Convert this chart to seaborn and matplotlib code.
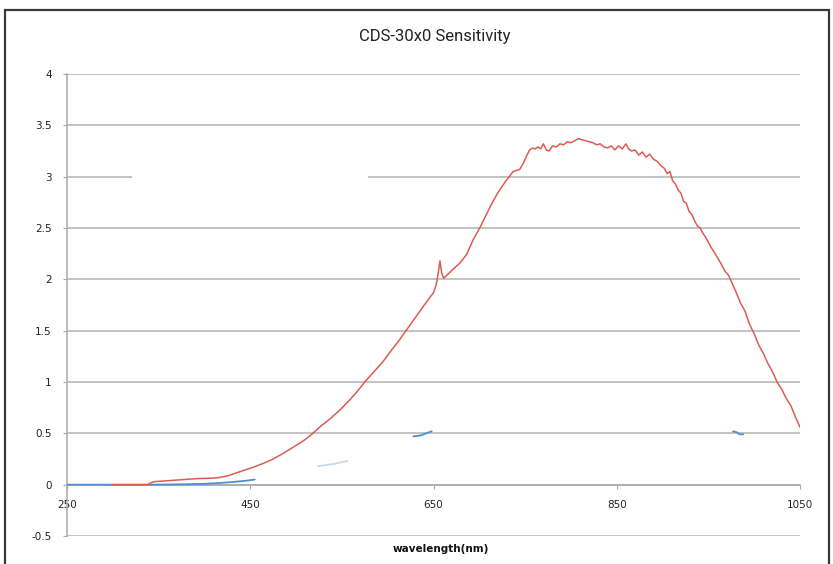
import numpy as np
import pandas as pd
import matplotlib
matplotlib.use('Agg')
import matplotlib.pyplot as plt
import seaborn as sns
from matplotlib.patches import Rectangle

# ── Data ──────────────────────────────────────────────────────────────────────
red_wl = [299, 338, 342, 346, 355, 370, 385, 395, 405, 415, 425, 435, 445, 455,
          465, 475, 485, 495, 505, 510, 517, 527, 537, 547, 557, 567, 575, 585,
          595, 605, 612, 620, 628, 636, 644, 650, 653, 655, 657, 659, 661, 668,
          679, 686, 693, 701, 707, 712, 720, 726, 730, 737, 744, 748, 752, 755,
          758, 761, 764, 767, 770, 773, 776, 780, 784, 788, 792, 796, 800, 804,
          808, 812, 816, 820, 824, 828, 832, 836, 840, 844, 848, 852, 856, 860,
          863, 866, 870, 874, 878, 882, 886, 890, 894, 898, 902, 905, 908, 911,
          914, 917, 920, 923, 926, 929, 932, 935, 938, 941, 944, 947, 950, 953,
          956, 960, 964, 968, 972, 976, 980, 985, 990, 995, 1000, 1005, 1010,
          1015, 1020, 1025, 1030, 1035, 1040, 1045, 1050]
red_val = [0.0, 0.0, 0.02, 0.03, 0.035, 0.045, 0.055, 0.06, 0.062, 0.068, 0.085,
           0.115, 0.145, 0.175, 0.21, 0.25, 0.30, 0.355, 0.41, 0.44, 0.49, 0.57,
           0.64, 0.72, 0.81, 0.91, 1.0, 1.10, 1.20, 1.32, 1.40, 1.50, 1.60, 1.70,
           1.80, 1.87, 1.95, 2.05, 2.18, 2.06, 2.01, 2.07, 2.16, 2.24, 2.38, 2.51,
           2.62, 2.71, 2.84, 2.92, 2.97, 3.05, 3.07, 3.13, 3.21, 3.26, 3.28, 3.27,
           3.29, 3.27, 3.32, 3.26, 3.25, 3.30, 3.29, 3.32, 3.31, 3.34, 3.33, 3.35,
           3.37, 3.36, 3.35, 3.34, 3.33, 3.31, 3.32, 3.29, 3.28, 3.30, 3.26, 3.30,
           3.27, 3.32, 3.27, 3.25, 3.26, 3.21, 3.24, 3.19, 3.22, 3.17, 3.15, 3.11,
           3.08, 3.03, 3.05, 2.96, 2.93, 2.87, 2.84, 2.76, 2.74, 2.66, 2.63, 2.57,
           2.52, 2.50, 2.45, 2.41, 2.36, 2.31, 2.27, 2.21, 2.15, 2.08, 2.04, 1.96,
           1.88, 1.77, 1.69, 1.56, 1.47, 1.36, 1.28, 1.18, 1.10, 1.00, 0.93, 0.84,
           0.77, 0.66, 0.56]

blue_wl = [250, 300, 340, 370, 400, 414, 430, 445, 455]
blue_val = [0.0, 0.0, 0.0, 0.003, 0.008, 0.015, 0.025, 0.038, 0.05]

# stray blue fragments of the scan
frag1_wl = [628, 636, 642, 648]
frag1_val = [0.47, 0.48, 0.50, 0.52]
frag2_wl = [977, 981, 984, 988]
frag2_val = [0.52, 0.51, 0.49, 0.49]
frag3_wl = [524, 540, 556]
frag3_val = [0.18, 0.20, 0.23]

RED = "#dc5c54"
BLUE = "#4f8fd0"

sns.set_style("white")
plt.rcParams['font.family'] = ['DejaVu Sans']

fig = plt.figure(figsize=(8.33, 5.64), dpi=100)
ax = fig.add_axes([67/833, 1 - 536/564, (800 - 67)/833, (536 - 74)/564])

# outer frame of the scanned chart
fig.patches.append(Rectangle((5/833, -0.05), (829 - 5)/833, 1 - 10/564 + 0.05,
                             transform=fig.transFigure, fill=False,
                             edgecolor="#3a3a3a", linewidth=1.6))

blue_df = pd.DataFrame({"wl": blue_wl, "val": blue_val})
red_df = pd.DataFrame({"wl": red_wl, "val": red_val})

sns.lineplot(data=blue_df, x="wl", y="val", color=BLUE, lw=1.3, ax=ax,
             estimator=None, zorder=3)
sns.lineplot(x=frag1_wl, y=frag1_val, color=BLUE, lw=1.3, ax=ax,
             estimator=None, zorder=3)
sns.lineplot(x=frag2_wl, y=frag2_val, color=BLUE, lw=1.3, ax=ax,
             estimator=None, zorder=3)
sns.lineplot(x=frag3_wl, y=frag3_val, color="#c4dbef", lw=1.3, ax=ax,
             estimator=None, zorder=3)
sns.lineplot(data=red_df, x="wl", y="val", color=RED, lw=1.1, ax=ax,
             estimator=None, zorder=4)

ax.set_xlim(250, 1050)
ax.set_ylim(-0.5, 4)
ax.set_xticks([250, 450, 650, 850, 1050])
ax.set_yticks(np.arange(-0.5, 4.01, 0.5))
ax.set_yticklabels(["-0.5", "0", "0.5", "1", "1.5", "2", "2.5", "3", "3.5", "4"])

ax.yaxis.grid(True, color="#b8b8b8", lw=1.2)
ax.set_axisbelow(True)
# gap in the 3.0 gridline of the original scan
ax.hlines(3, 321, 579, color="white", lw=3, zorder=1)

for s in ["top", "right"]:
    ax.spines[s].set_visible(False)
ax.spines["left"].set_color("#aaaaaa")
ax.spines["left"].set_linewidth(1.1)
ax.spines["bottom"].set_position(("data", 0))
ax.spines["bottom"].set_color("#aaaaaa")
ax.spines["bottom"].set_linewidth(1.1)

ax.tick_params(axis="x", direction="out", length=3, width=0.8, color="#aaaaaa",
               pad=8, labelsize=7.5, labelcolor="#222222", bottom=True)
ax.tick_params(axis="y", direction="out", length=3, width=0.8, color="#aaaaaa",
               pad=8, labelsize=7.5, labelcolor="#222222", left=True)

ax.set_xlabel("wavelength(nm)", fontsize=7.5, fontweight="bold", color="#111111")
ax.xaxis.set_label_coords(0.51, -0.017)
ax.set_ylabel("")

fig.text(435/833, 1 - 37/564, "CDS-30x0 Sensitivity", ha="center", va="center",
         fontsize=12, family="Roboto", color="#222222")

plt.savefig("out.png", dpi=100, facecolor="white")
plt.close()
